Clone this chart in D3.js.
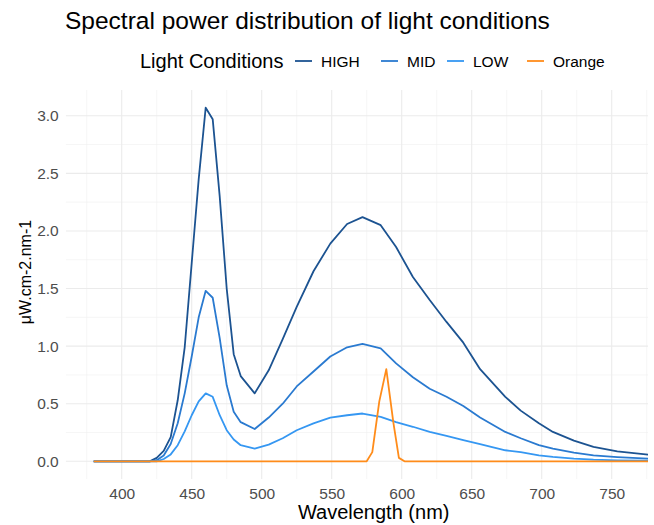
<!DOCTYPE html>
<html>
<head>
<meta charset="utf-8">
<script src="https://cdn.jsdelivr.net/npm/d3@7"></script>
<style>
  body { margin: 0; background: #fff; }
  text { font-family: "Liberation Sans", Arial, sans-serif; }
</style>
</head>
<body>
<div id="chart"></div>
<script>
// wavelengths (nm) shared by the three lamp series
const wavelengths = [380, 420, 425, 430, 435, 440, 445, 450, 455, 460, 465, 470, 475, 480, 485, 495,
    505, 515, 525, 537, 549, 561, 572, 585, 596, 608, 620, 632, 644, 656, 674, 685, 698, 708,
    723, 737, 754, 776, 780];
const highValues = [0, 0, 0.03, 0.09, 0.21, 0.53, 0.99, 1.72, 2.45, 3.07, 2.97, 2.30, 1.50, 0.93, 0.74, 0.59,
    0.79, 1.06, 1.34, 1.65, 1.89, 2.06, 2.12, 2.05, 1.86, 1.60, 1.40, 1.21, 1.03, 0.80, 0.56, 0.44, 0.33, 0.255,
    0.18, 0.125, 0.087, 0.058, 0.054];
const midValues = [0, 0, 0.01, 0.05, 0.15, 0.33, 0.59, 0.91, 1.25, 1.48, 1.42, 1.07, 0.66, 0.43, 0.34, 0.28,
    0.38, 0.50, 0.65, 0.78, 0.91, 0.99, 1.02, 0.98, 0.85, 0.73, 0.63, 0.56, 0.48, 0.38, 0.255, 0.20, 0.14, 0.11,
    0.076, 0.052, 0.037, 0.023, 0.021];
const lowValues = [0, 0, 0, 0.02, 0.06, 0.14, 0.26, 0.40, 0.52, 0.59, 0.56, 0.40, 0.27, 0.19, 0.14, 0.11,
    0.145, 0.20, 0.27, 0.33, 0.38, 0.40, 0.415, 0.385, 0.34, 0.30, 0.255, 0.22, 0.185, 0.15, 0.096, 0.08, 0.052, 0.038,
    0.023, 0.014, 0.009, 0.006, 0.006];

// orange filter has its own sampling
const orangeWavelengths = [380, 575, 579, 584, 589, 594, 598, 602, 780];
const orangeValues = [0, 0, 0.08, 0.52, 0.80, 0.34, 0.03, 0, 0];

const seriesNames = ['HIGH', 'MID', 'LOW', 'Orange'];
const seriesColors = ['#1c5391', '#2a7ad0', '#3597f2', '#ff8c1a'];

const xTicks = [400, 450, 500, 550, 600, 650, 700, 750];
const xMinor = [375, 425, 475, 525, 575, 625, 675, 725, 775];
const yTicks = [0, 0.5, 1.0, 1.5, 2.0, 2.5, 3.0];
const yMinor = [0.25, 0.75, 1.25, 1.75, 2.25, 2.75];

const width = 654, height = 525;
// the plot is cut on the right edge, so the panel runs past the visible area
const panel = {left: 65.7, right: 681.7, top: 90, bottom: 479, visibleRight: 648};

const svg = d3.select('#chart').append('svg')
    .attr('width', width)
    .attr('height', height);

const x = d3.scaleLinear()
    .domain([360, 800])
    .range([panel.left, panel.right]);

const y = d3.scaleLinear()
    .domain([-0.1535, 3.2235])
    .range([panel.bottom, panel.top]);

svg.append('clipPath')
    .attr('id', 'panel-clip')
    .append('rect')
    .attr('x', panel.left)
    .attr('y', panel.top - 5)
    .attr('width', panel.visibleRight - panel.left)
    .attr('height', panel.bottom - panel.top + 10);

const grid = svg.append('g').attr('clip-path', 'url(#panel-clip)');

grid.selectAll('.ymin')
    .data(yMinor)
    .join('line')
    .attr('x1', panel.left).attr('x2', panel.right)
    .attr('y1', d => y(d)).attr('y2', d => y(d))
    .attr('stroke', '#f0f0f0').attr('stroke-width', 0.6);

grid.selectAll('.xmin')
    .data(xMinor)
    .join('line')
    .attr('y1', panel.bottom).attr('y2', panel.top)
    .attr('x1', d => x(d)).attr('x2', d => x(d))
    .attr('stroke', '#f0f0f0').attr('stroke-width', 0.6);

grid.selectAll('.ymaj')
    .data(yTicks)
    .join('line')
    .attr('x1', panel.left).attr('x2', panel.right)
    .attr('y1', d => y(d)).attr('y2', d => y(d))
    .attr('stroke', '#ebebeb').attr('stroke-width', 1.1);

grid.selectAll('.xmaj')
    .data(xTicks)
    .join('line')
    .attr('y1', panel.bottom).attr('y2', panel.top)
    .attr('x1', d => x(d)).attr('x2', d => x(d))
    .attr('stroke', '#ebebeb').attr('stroke-width', 1.1);

// axes (ticks hidden, labels only)
const xAxis = svg.append('g')
    .attr('transform', `translate(0,${panel.bottom})`)
    .call(d3.axisBottom(x).tickValues(xTicks).tickSize(0).tickPadding(9));
xAxis.select('.domain').remove();
xAxis.selectAll('text')
    .attr('fill', '#4d4d4d')
    .style('font-size', '15.5px');

const yAxis = svg.append('g')
    .attr('transform', `translate(${panel.left},0)`)
    .call(d3.axisLeft(y).tickValues(yTicks).tickSize(0).tickPadding(7).tickFormat(d3.format('.1f')));
yAxis.select('.domain').remove();
yAxis.selectAll('text')
    .attr('fill', '#4d4d4d')
    .style('font-size', '15.5px');

// lines
const line = d3.line()
    .x(d => x(d[0]))
    .y(d => y(d[1]));

const seriesData = [
    wavelengths.map((w, i) => [w, highValues[i]]),
    wavelengths.map((w, i) => [w, midValues[i]]),
    wavelengths.map((w, i) => [w, lowValues[i]]),
    orangeWavelengths.map((w, i) => [w, orangeValues[i]])
];

svg.append('g')
    .attr('clip-path', 'url(#panel-clip)')
    .selectAll('path')
    .data(seriesData)
    .join('path')
    .attr('d', line)
    .attr('fill', 'none')
    .attr('stroke', (d, i) => seriesColors[i])
    .attr('stroke-width', 1.8)
    .attr('stroke-linejoin', 'round');

// titles
svg.append('text')
    .attr('x', 65)
    .attr('y', 29)
    .style('font-size', '24.5px')
    .attr('fill', '#000')
    .text('Spectral power distribution of light conditions');

svg.append('text')
    .attr('x', (panel.left + panel.right) / 2)
    .attr('y', 519)
    .attr('text-anchor', 'middle')
    .style('font-size', '20px')
    .attr('fill', '#000')
    .text('Wavelength (nm)');

svg.append('text')
    .attr('transform', 'translate(31,272) rotate(-90)')
    .attr('text-anchor', 'middle')
    .style('font-size', '16px')
    .attr('fill', '#000')
    .text('μW.cm-2.nm-1');

// legend
const legend = svg.append('g').attr('transform', 'translate(0,61)');
legend.append('text')
    .attr('x', 140)
    .attr('y', 7)
    .style('font-size', '20px')
    .attr('fill', '#000')
    .text('Light Conditions');

const keyX = [295, 381, 447, 527];
const keys = legend.selectAll('.key')
    .data(seriesNames)
    .join('g')
    .attr('transform', (d, i) => `translate(${keyX[i]},0)`);

keys.append('line')
    .attr('x1', 0).attr('x2', 17)
    .attr('y1', 0).attr('y2', 0)
    .attr('stroke', (d, i) => seriesColors[i])
    .attr('stroke-width', 1.8);

keys.append('text')
    .attr('x', 26)
    .attr('y', 5.5)
    .style('font-size', '15.5px')
    .attr('fill', '#000')
    .text(d => d);
</script>
</body>
</html>
